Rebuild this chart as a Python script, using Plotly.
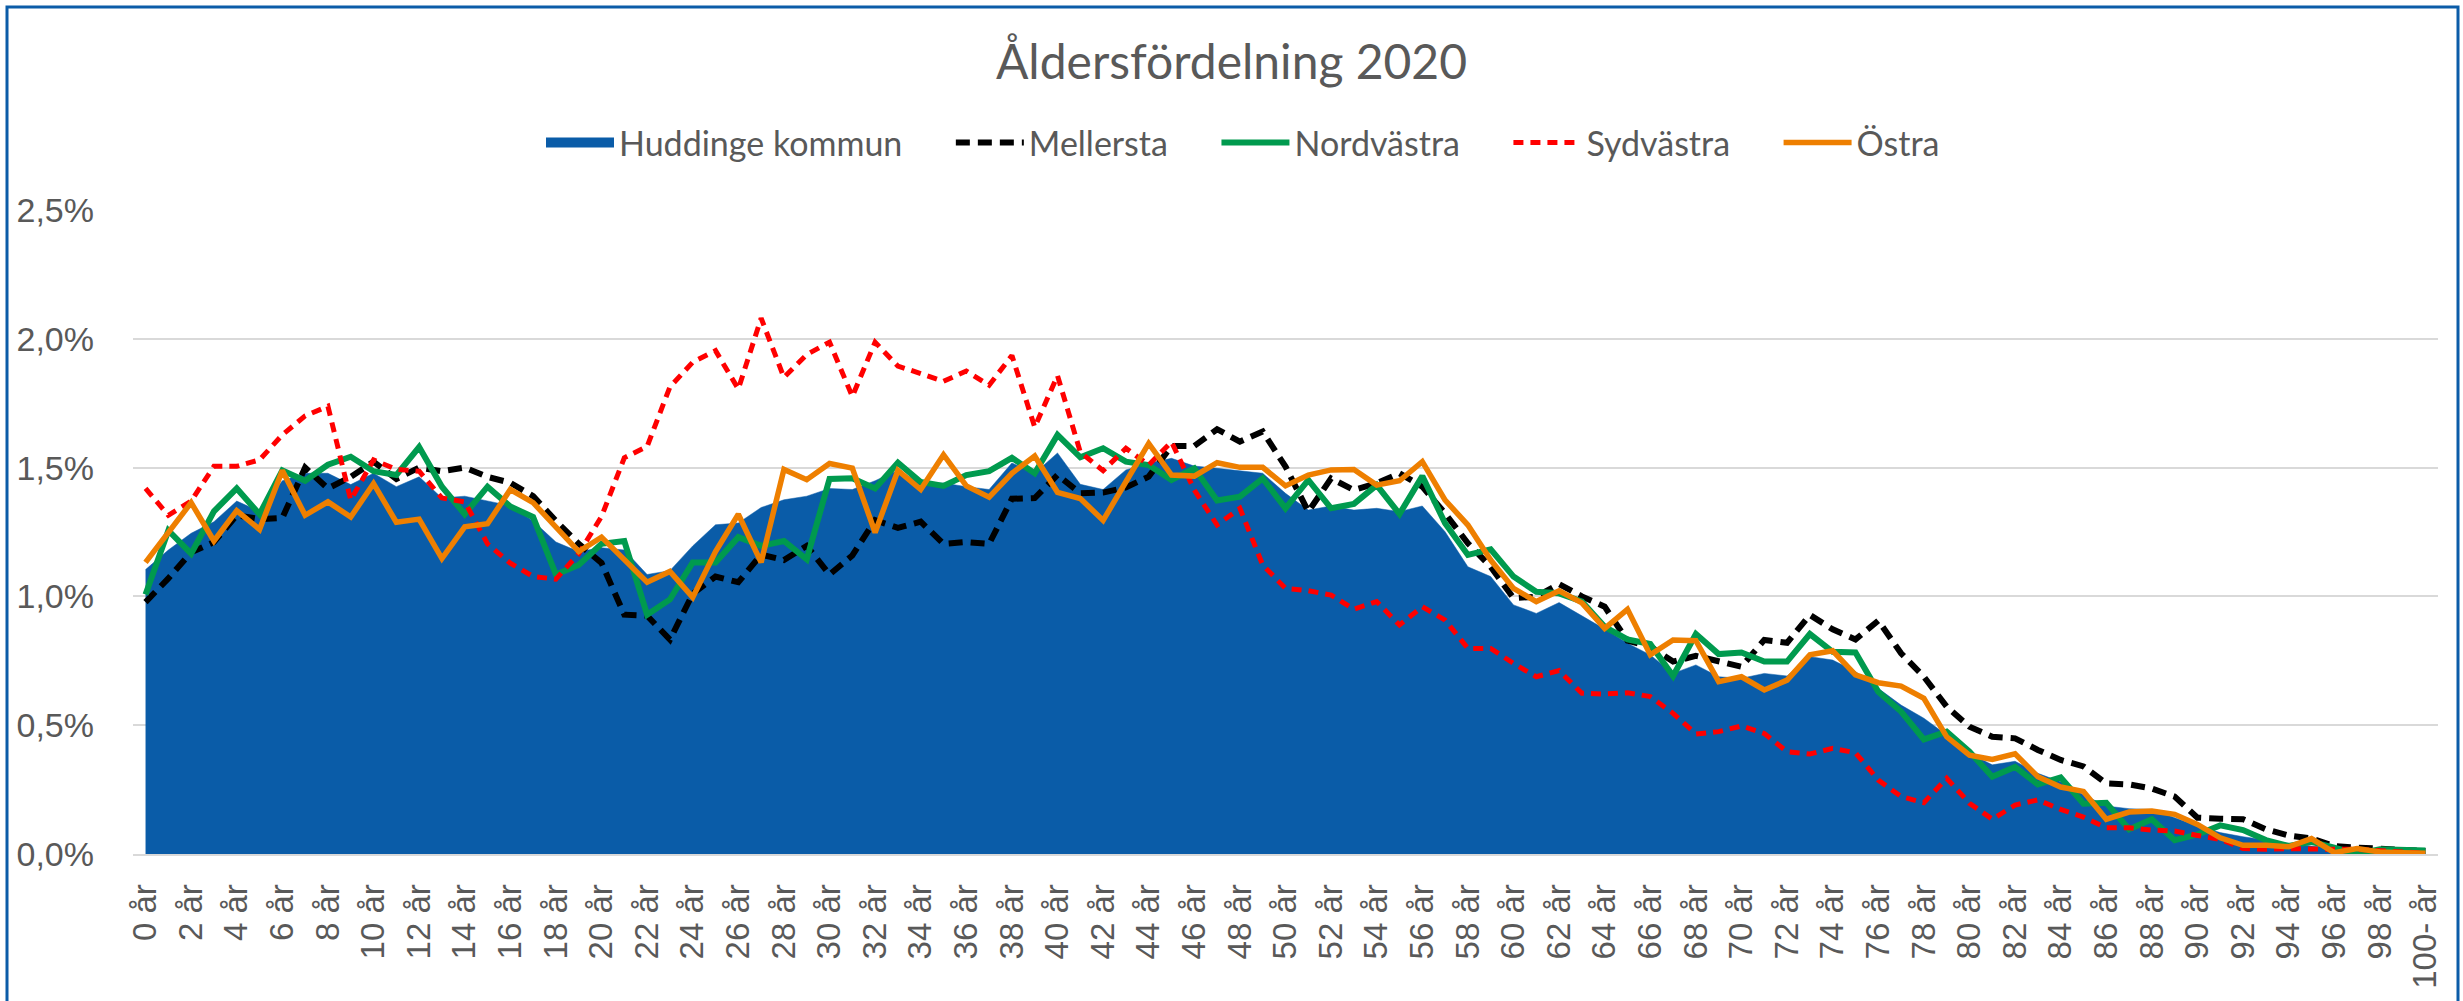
import plotly.graph_objects as go

categories = [f"{i} år" for i in range(100)] + ["100- år"]
tick_labels = [categories[i] for i in range(0, 101, 2)]

huddinge = [1.104, 1.18, 1.245, 1.29, 1.37, 1.33, 1.449, 1.478, 1.478, 1.434,
            1.478, 1.426, 1.464, 1.382, 1.389, 1.37, 1.352, 1.293, 1.211, 1.174,
            1.189, 1.18, 1.085, 1.10, 1.196, 1.278, 1.285, 1.345, 1.375, 1.389,
            1.419, 1.415, 1.449, 1.49, 1.44, 1.44, 1.426, 1.415, 1.518, 1.478,
            1.557, 1.435, 1.415, 1.491, 1.517, 1.536, 1.506, 1.497, 1.488, 1.478,
            1.40, 1.335, 1.351, 1.335, 1.342, 1.329, 1.351, 1.251, 1.115, 1.077,
            0.967, 0.934, 0.976, 0.925, 0.873, 0.818, 0.773, 0.701, 0.734, 0.688,
            0.682, 0.701, 0.691, 0.766, 0.753, 0.708, 0.643, 0.578, 0.527, 0.462,
            0.391, 0.346, 0.36, 0.313, 0.28, 0.23, 0.186, 0.176, 0.173, 0.141,
            0.109, 0.083, 0.067, 0.054, 0.041, 0.031, 0.021, 0.016, 0.012, 0.008,
            0.005]

mellersta = [0.978, 1.07, 1.171, 1.211, 1.315, 1.30, 1.305, 1.50, 1.419, 1.464,
             1.523, 1.456, 1.50, 1.486, 1.50, 1.464, 1.441, 1.389, 1.293, 1.204,
             1.13, 0.929, 0.925, 0.832, 1.01, 1.077, 1.055, 1.162, 1.141, 1.196,
             1.085, 1.159, 1.296, 1.266, 1.29, 1.204, 1.211, 1.204, 1.379, 1.382,
             1.471, 1.40, 1.403, 1.423, 1.465, 1.584, 1.584, 1.649, 1.601, 1.64,
             1.504, 1.329, 1.458, 1.413, 1.439, 1.478, 1.426, 1.322, 1.206, 1.115,
             0.993, 0.999, 1.048, 1.0, 0.96, 0.828, 0.805, 0.747, 0.769, 0.747,
             0.727, 0.831, 0.82, 0.928, 0.872, 0.833, 0.906, 0.779, 0.688, 0.572,
             0.494, 0.455, 0.449, 0.404, 0.365, 0.34, 0.274, 0.27, 0.254, 0.223,
             0.141, 0.137, 0.135, 0.096, 0.072, 0.06, 0.031, 0.025, 0.018, 0.016,
             0.012]

nordvastra = [1.007, 1.256, 1.166, 1.33, 1.419, 1.319, 1.489, 1.449, 1.511, 1.542,
              1.486, 1.471, 1.58, 1.426, 1.319, 1.426, 1.349, 1.308, 1.085, 1.122,
              1.204, 1.215, 0.929, 0.988, 1.132, 1.132, 1.23, 1.196, 1.215, 1.144,
              1.456, 1.459, 1.419, 1.519, 1.444, 1.429, 1.471, 1.486, 1.538, 1.478,
              1.627, 1.54, 1.575, 1.523, 1.51, 1.452, 1.497, 1.372, 1.387, 1.458,
              1.342, 1.452, 1.342, 1.359, 1.432, 1.32, 1.467, 1.284, 1.161, 1.183,
              1.077, 1.018, 1.012, 0.98, 0.882, 0.833, 0.815, 0.691, 0.854, 0.776,
              0.782, 0.747, 0.747, 0.854, 0.785, 0.782, 0.63, 0.553, 0.445, 0.475,
              0.397, 0.30, 0.338, 0.27, 0.297, 0.195, 0.199, 0.096, 0.135, 0.054,
              0.076, 0.111, 0.093, 0.054, 0.031, 0.047, 0.025, 0.0, 0.018, 0.016,
              0.014]

sydvastra = [1.419, 1.315, 1.37, 1.505, 1.505, 1.53, 1.627, 1.701, 1.738, 1.374,
             1.53, 1.493, 1.486, 1.382, 1.367, 1.204, 1.129, 1.077, 1.067, 1.166,
             1.31, 1.538, 1.582, 1.813, 1.909, 1.954, 1.805, 2.08, 1.85, 1.939,
             1.987, 1.776, 1.987, 1.894, 1.865, 1.835, 1.875, 1.82, 1.935, 1.657,
             1.857, 1.56, 1.488, 1.575, 1.51, 1.60, 1.413, 1.277, 1.342, 1.122,
             1.031, 1.022, 1.005, 0.95, 0.98, 0.889, 0.96, 0.908, 0.798, 0.798,
             0.74, 0.688, 0.712, 0.624, 0.621, 0.626, 0.611, 0.546, 0.466, 0.475,
             0.497, 0.468, 0.397, 0.388, 0.41, 0.393, 0.287, 0.223, 0.199, 0.294,
             0.197, 0.135, 0.19, 0.21, 0.173, 0.143, 0.102, 0.102, 0.093, 0.089,
             0.072, 0.057, 0.021, 0.018, 0.021, 0.018, 0.018, 0.018, 0.012, 0.008,
             0.003]

ostra = [1.132, 1.248, 1.364, 1.215, 1.333, 1.26, 1.489, 1.315, 1.367, 1.308,
         1.438, 1.288, 1.30, 1.147, 1.27, 1.282, 1.415, 1.364, 1.269, 1.174,
         1.23, 1.14, 1.055, 1.097, 0.996, 1.174, 1.319, 1.132, 1.493, 1.453,
         1.516, 1.498, 1.248, 1.489, 1.415, 1.55, 1.429, 1.385, 1.478, 1.545,
         1.404, 1.38, 1.295, 1.445, 1.594, 1.471, 1.467, 1.519, 1.501, 1.501,
         1.429, 1.471, 1.491, 1.493, 1.432, 1.449, 1.523, 1.374, 1.277, 1.141,
         1.031, 0.98, 1.022, 0.975, 0.876, 0.95, 0.773, 0.831, 0.828, 0.669,
         0.688, 0.637, 0.675, 0.773, 0.789, 0.695, 0.665, 0.652, 0.604, 0.455,
         0.384, 0.367, 0.389, 0.30, 0.26, 0.243, 0.135, 0.163, 0.167, 0.154,
         0.115, 0.063, 0.034, 0.034, 0.028, 0.06, 0.005, 0.021, 0.008, 0.005,
         0.003]

def frac(vals):
    return [v / 100 for v in vals]

W, H = 2463, 1001
L, R, T, B = 133, 25, 210, 147
pw, ph = W - L - R, H - T - B
BLUE = "#0A5CA8"
PAD = "\u00a0" * 5  # extra spacing after legend labels

fig = go.Figure()
# legend entry for the area (rectangular swatch)
fig.add_trace(go.Scatter(x=[None], y=[None], name="Huddinge kommun" + PAD, mode="lines",
                         line=dict(color=BLUE, width=21), hoverinfo="skip"))
fig.add_trace(go.Scatter(x=categories, y=frac(huddinge), name="Huddinge kommun",
                         mode="lines", fill="tozeroy", fillcolor=BLUE,
                         line=dict(color=BLUE, width=0.5), showlegend=False))
fig.add_trace(go.Scatter(x=categories, y=frac(mellersta), name="Mellersta" + PAD, mode="lines",
                         line=dict(color="#000000", width=6, dash="14px,8px")))
fig.add_trace(go.Scatter(x=categories, y=frac(nordvastra), name="Nordvästra" + PAD, mode="lines",
                         line=dict(color="#009A4E", width=6)))
fig.add_trace(go.Scatter(x=categories, y=frac(sydvastra), name="Sydvästra" + PAD, mode="lines",
                         line=dict(color="#FF0000", width=5, dash="10px,7px")))
fig.add_trace(go.Scatter(x=categories, y=frac(ostra), name="Östra", mode="lines",
                         line=dict(color="#EE7F00", width=5.5)))

# chart border
fig.add_shape(type="rect", xref="paper", yref="paper",
              x0=(7 - L) / pw, x1=(W - 5 - L) / pw,
              y0=(H - B - 1040) / ph, y1=(H - B - 7) / ph,
              line=dict(color="#0B5CA8", width=3), fillcolor="rgba(0,0,0,0)", layer="below")

fig.update_layout(
    width=W, height=H,
    margin=dict(l=L, r=R, t=T, b=B, pad=0),
    paper_bgcolor="white", plot_bgcolor="white",
    separators=",.",
    title=dict(text="Åldersfördelning 2020", x=0.5, xanchor="center",
               y=1 - 62 / H, yanchor="middle",
               font=dict(family="Lato", size=48, color="#595959")),
    legend=dict(orientation="h", x=(1243 - L) / pw, xanchor="center",
                y=(H - B - 143) / ph, yanchor="middle",
                font=dict(family="Lato", size=34, color="#595959"),
                itemwidth=68, traceorder="normal"),
    showlegend=True,
)
fig.update_xaxes(type="category", range=[-0.55, 100.55],
                 tickmode="array", tickvals=tick_labels, ticktext=tick_labels,
                 tickangle=-90, tickfont=dict(family="Liberation Sans", size=33, color="#595959"),
                 showgrid=False, showline=True, linecolor="#D9D9D9", linewidth=2,
                 ticks="", ticklabelstandoff=15, zeroline=False)
fig.update_yaxes(range=[0, 0.025], tickvals=[0, 0.005, 0.01, 0.015, 0.02, 0.025],
                 tickformat=".1%", tickfont=dict(family="Liberation Sans", size=34, color="#595959"),
                 showgrid=True, gridcolor="#D9D9D9", gridwidth=2, zeroline=False,
                 showline=False, ticks="", ticklabelstandoff=38)

fig.write_html("out.html", config={"displayModeBar": False},
               post_script="document.body.style.margin='0px';document.body.style.overflow='hidden';")
